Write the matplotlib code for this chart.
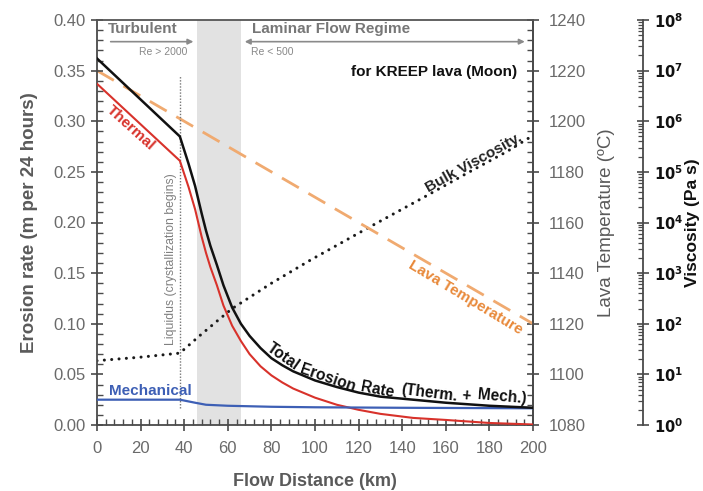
import numpy as np
import matplotlib
matplotlib.use("Agg")
import matplotlib.pyplot as plt
from matplotlib.ticker import MultipleLocator, LogLocator, FixedLocator, NullFormatter

plt.rcParams['font.family'] = ['Liberation Sans', 'DejaVu Sans']

# ---------------- data ----------------
thermal_km = [0, 38, 42, 45, 48, 50, 52, 55, 58, 62, 66, 70, 75, 80, 85, 90, 100, 110, 120, 130, 145, 160, 180, 200]
thermal_rate = [0.337, 0.261, 0.235, 0.213, 0.186, 0.170, 0.156, 0.138, 0.118, 0.098, 0.083, 0.070,
                0.058, 0.049, 0.042, 0.036, 0.027, 0.020, 0.015, 0.011, 0.007, 0.005, 0.002, 0.0005]

total_km = [0, 38, 42, 45, 48, 50, 52, 55, 58, 62, 66, 70, 75, 80, 85, 90, 100, 110, 120, 130, 145, 160, 180, 200]
total_rate = [0.362, 0.285, 0.258, 0.236, 0.209, 0.192, 0.177, 0.158, 0.138, 0.116, 0.100, 0.088,
              0.076, 0.066, 0.059, 0.053, 0.044, 0.0375, 0.032, 0.028, 0.025, 0.022, 0.019, 0.017]

mech_km = [0, 38, 45, 50, 60, 80, 100, 140, 200]
mech_rate = [0.025, 0.025, 0.022, 0.020, 0.019, 0.018, 0.0175, 0.017, 0.0165]

temp_km = [0, 200]
lava_temp = [1220, 1120]

visc_km = [0, 20, 38, 47, 55, 62, 80, 98, 125, 150, 170, 188, 200]
visc_log10 = [1.27, 1.34, 1.42, 1.76, 2.05, 2.30, 2.80, 3.26, 3.91, 4.50, 4.98, 5.40, 5.72]

liquidus_km = 38
transition_km = (46, 66)

x_ticks = [0, 20, 40, 60, 80, 100, 120, 140, 160, 180, 200]
rate_ticks = [0.00, 0.05, 0.10, 0.15, 0.20, 0.25, 0.30, 0.35, 0.40]
temp_ticks = [1080, 1100, 1120, 1140, 1160, 1180, 1200, 1220, 1240]
visc_exponents = [0, 1, 2, 3, 4, 5, 6, 7, 8]

# ---------------- figure ----------------
W, H = 703, 491
fig = plt.figure(figsize=(W / 100, H / 100), dpi=100, facecolor='white')
L, R, T, B = 97, 533, 20, 425
ax = fig.add_axes([L / W, 1 - B / H, (R - L) / W, (B - T) / H])
ax2 = ax.twinx()
ax3 = ax.twinx()
ax3.set_zorder(1)
ax2.set_zorder(2)
ax.set_zorder(3)
ax.patch.set_visible(False)
ax2.patch.set_visible(False)

spine_c = '#4a4a4a'
tick_c = '#6a6a6a'
lab_c = '#5a5a5a'

# viscosity axis (bottom layer, holds the transition band)
ax3.axvspan(*transition_km, color='#e2e2e2', zorder=0, lw=0)
ax3.set_yscale('log')
ax3.plot(visc_km, [10 ** v for v in visc_log10], color='#1a1a1a', lw=2.2,
         linestyle=(0, (0.01, 2.4)), dash_capstyle='round', zorder=3)
ax3.set_xlim(0, 200)
ax3.set_ylim(1, 1e8)
ax3.spines['right'].set_position(('axes', 1 + 110 / 436))
for k, s in ax3.spines.items():
    s.set_visible(k == 'right')
ax3.spines['right'].set_color(spine_c)
ax3.spines['right'].set_linewidth(1.3)
ax3.yaxis.set_major_locator(FixedLocator([10.0 ** e for e in visc_exponents]))
ax3.set_yticklabels([rf"$\mathbf{{10^{{{e}}}}}$" for e in visc_exponents])
ax3.yaxis.set_minor_locator(LogLocator(base=10, subs=np.arange(2, 10), numticks=100))
ax3.yaxis.set_minor_formatter(NullFormatter())
ax3.tick_params(which='major', direction='inout', length=9, width=1.2, colors=spine_c,
                labelcolor='#111111', labelsize=10.5)
ax3.tick_params(which='minor', direction='in', length=3.5, width=0.9, colors=spine_c)
ax3.set_ylabel('Viscosity (Pa s)', fontsize=12.5, fontweight='bold', color='#111111')
ax3.yaxis.set_label_coords(1.348, 0.5)

# erosion-rate axis
ax.plot(thermal_km, thermal_rate, color='#d8322b', lw=1.5, zorder=4)
ax.plot(total_km, total_rate, color='#111111', lw=1.8, zorder=5)
ax.plot(mech_km, mech_rate, color='#3d5fb5', lw=1.6, zorder=4)
ax.plot([liquidus_km, liquidus_km], [0.017, 0.345], color='#777777', lw=1.0,
        linestyle=(0, (1, 1.2)), zorder=3)

ax.set_xlim(0, 200)
ax.set_ylim(0, 0.40)
ax.set_xticks(x_ticks)
ax.set_yticks(rate_ticks)
ax.set_yticklabels([f"{v:.2f}" for v in rate_ticks])
ax.xaxis.set_minor_locator(MultipleLocator(4))
ax.yaxis.set_minor_locator(MultipleLocator(0.01))
ax.tick_params(which='major', direction='inout', length=9, width=1.2, colors=spine_c,
               labelcolor=tick_c, labelsize=12)
ax.tick_params(which='minor', direction='in', length=4, width=1.0, colors=spine_c)
ax.tick_params(axis='x', which='both', top=False, pad=7)
ax.tick_params(axis='y', which='both', right=False)
for s in ax.spines.values():
    s.set_color(spine_c)
    s.set_linewidth(1.3)
ax.spines['top'].set_color('#555555')

ax.set_xlabel('Flow Distance (km)', fontsize=13, fontweight='bold', color=lab_c)
ax.xaxis.set_label_coords(0.5, -0.118)
ax.set_ylabel('Erosion rate (m per 24 hours)', fontsize=13.5, fontweight='bold', color=lab_c)
ax.yaxis.set_label_coords(-0.135, 0.5)

# temperature axis
ax2.plot(temp_km, lava_temp, color='#f0aa70', lw=2.0, linestyle=(0, (7, 4)), zorder=3)
ax2.set_ylim(1080, 1240)
ax2.set_yticks(temp_ticks)
ax2.yaxis.set_minor_locator(MultipleLocator(4))
ax2.tick_params(which='major', direction='inout', length=9, width=1.2, colors=spine_c,
                labelcolor=tick_c, labelsize=12, pad=6.5)
ax2.tick_params(which='minor', direction='in', length=4, width=1.0, colors=spine_c)
for k, s in ax2.spines.items():
    s.set_visible(k == 'right')
ax2.spines['right'].set_color(spine_c)
ax2.spines['right'].set_linewidth(1.3)
ax2.set_ylabel('Lava Temperature (ºC)', fontsize=13.5, color=lab_c, rotation=90)
ax2.yaxis.set_label_coords(1.148, 0.5)

# ---------------- annotations ----------------
gtxt = '#777777'
ax.text(5, 0.391, 'Turbulent', fontsize=11, fontweight='bold', color=gtxt, va='center', ha='left')
ax.annotate('', xy=(45.5, 0.3786), xytext=(5, 0.3786),
            arrowprops=dict(arrowstyle='-|>', color='#8a8a8a', lw=1.2, mutation_scale=8))
ax.text(41.5, 0.3687, 'Re > 2000', fontsize=7.5, color='#888888', va='center', ha='right')
ax.text(71, 0.391, 'Laminar Flow Regime', fontsize=11, fontweight='bold', color=gtxt,
        va='center', ha='left')
ax.annotate('', xy=(197.5, 0.3786), xytext=(66.5, 0.3786),
            arrowprops=dict(arrowstyle='<|-|>', color='#8a8a8a', lw=1.2, mutation_scale=8))
ax.text(70.5, 0.3687, 'Re < 500', fontsize=7.5, color='#888888', va='center', ha='left')
ax.text(192.5, 0.3486, 'for KREEP lava (Moon)', fontsize=11, fontweight='bold', color='#111111',
        va='center', ha='right')

ax.text(15.6, 0.293, 'Thermal', fontsize=11, fontweight='bold', color='#d8322b',
        rotation=-42, rotation_mode='anchor', ha='center', va='center')
ax.text(24.3, 0.0336, 'Mechanical', fontsize=11, fontweight='bold', color='#3d5fb5',
        ha='center', va='center')
ax.text(168.8, 0.126, 'Lava Temperature', fontsize=11, fontweight='bold', color='#e8893a',
        rotation=-31, rotation_mode='anchor', ha='center', va='center')
ax.text(173, 0.259, 'Bulk Viscosity.', fontsize=11, fontweight='bold', color='#222222',
        rotation=29, rotation_mode='anchor', ha='center', va='center')
ax.text(33.9, 0.1635, 'Liquidus (crystallization begins)', fontsize=8.8, color='#808080',
        rotation=90, rotation_mode='anchor', ha='center', va='center')

words = [('Total', 85.2, 0.068, -35), ('Erosion', 106, 0.0465, -19), ('Rate', 128.6, 0.0348, -11),
         ('(Therm.', 152.3, 0.0316, -7), ('+', 169.5, 0.0292, -5), ('Mech.)', 185.8, 0.0277, -5)]
for w, xx, yy, rot in words:
    ax.text(xx, yy, w, fontsize=11.2, fontweight='bold', color='#111111', rotation=rot,
            rotation_mode='anchor', ha='center', va='center')

fig.savefig('out.png', dpi=100)
